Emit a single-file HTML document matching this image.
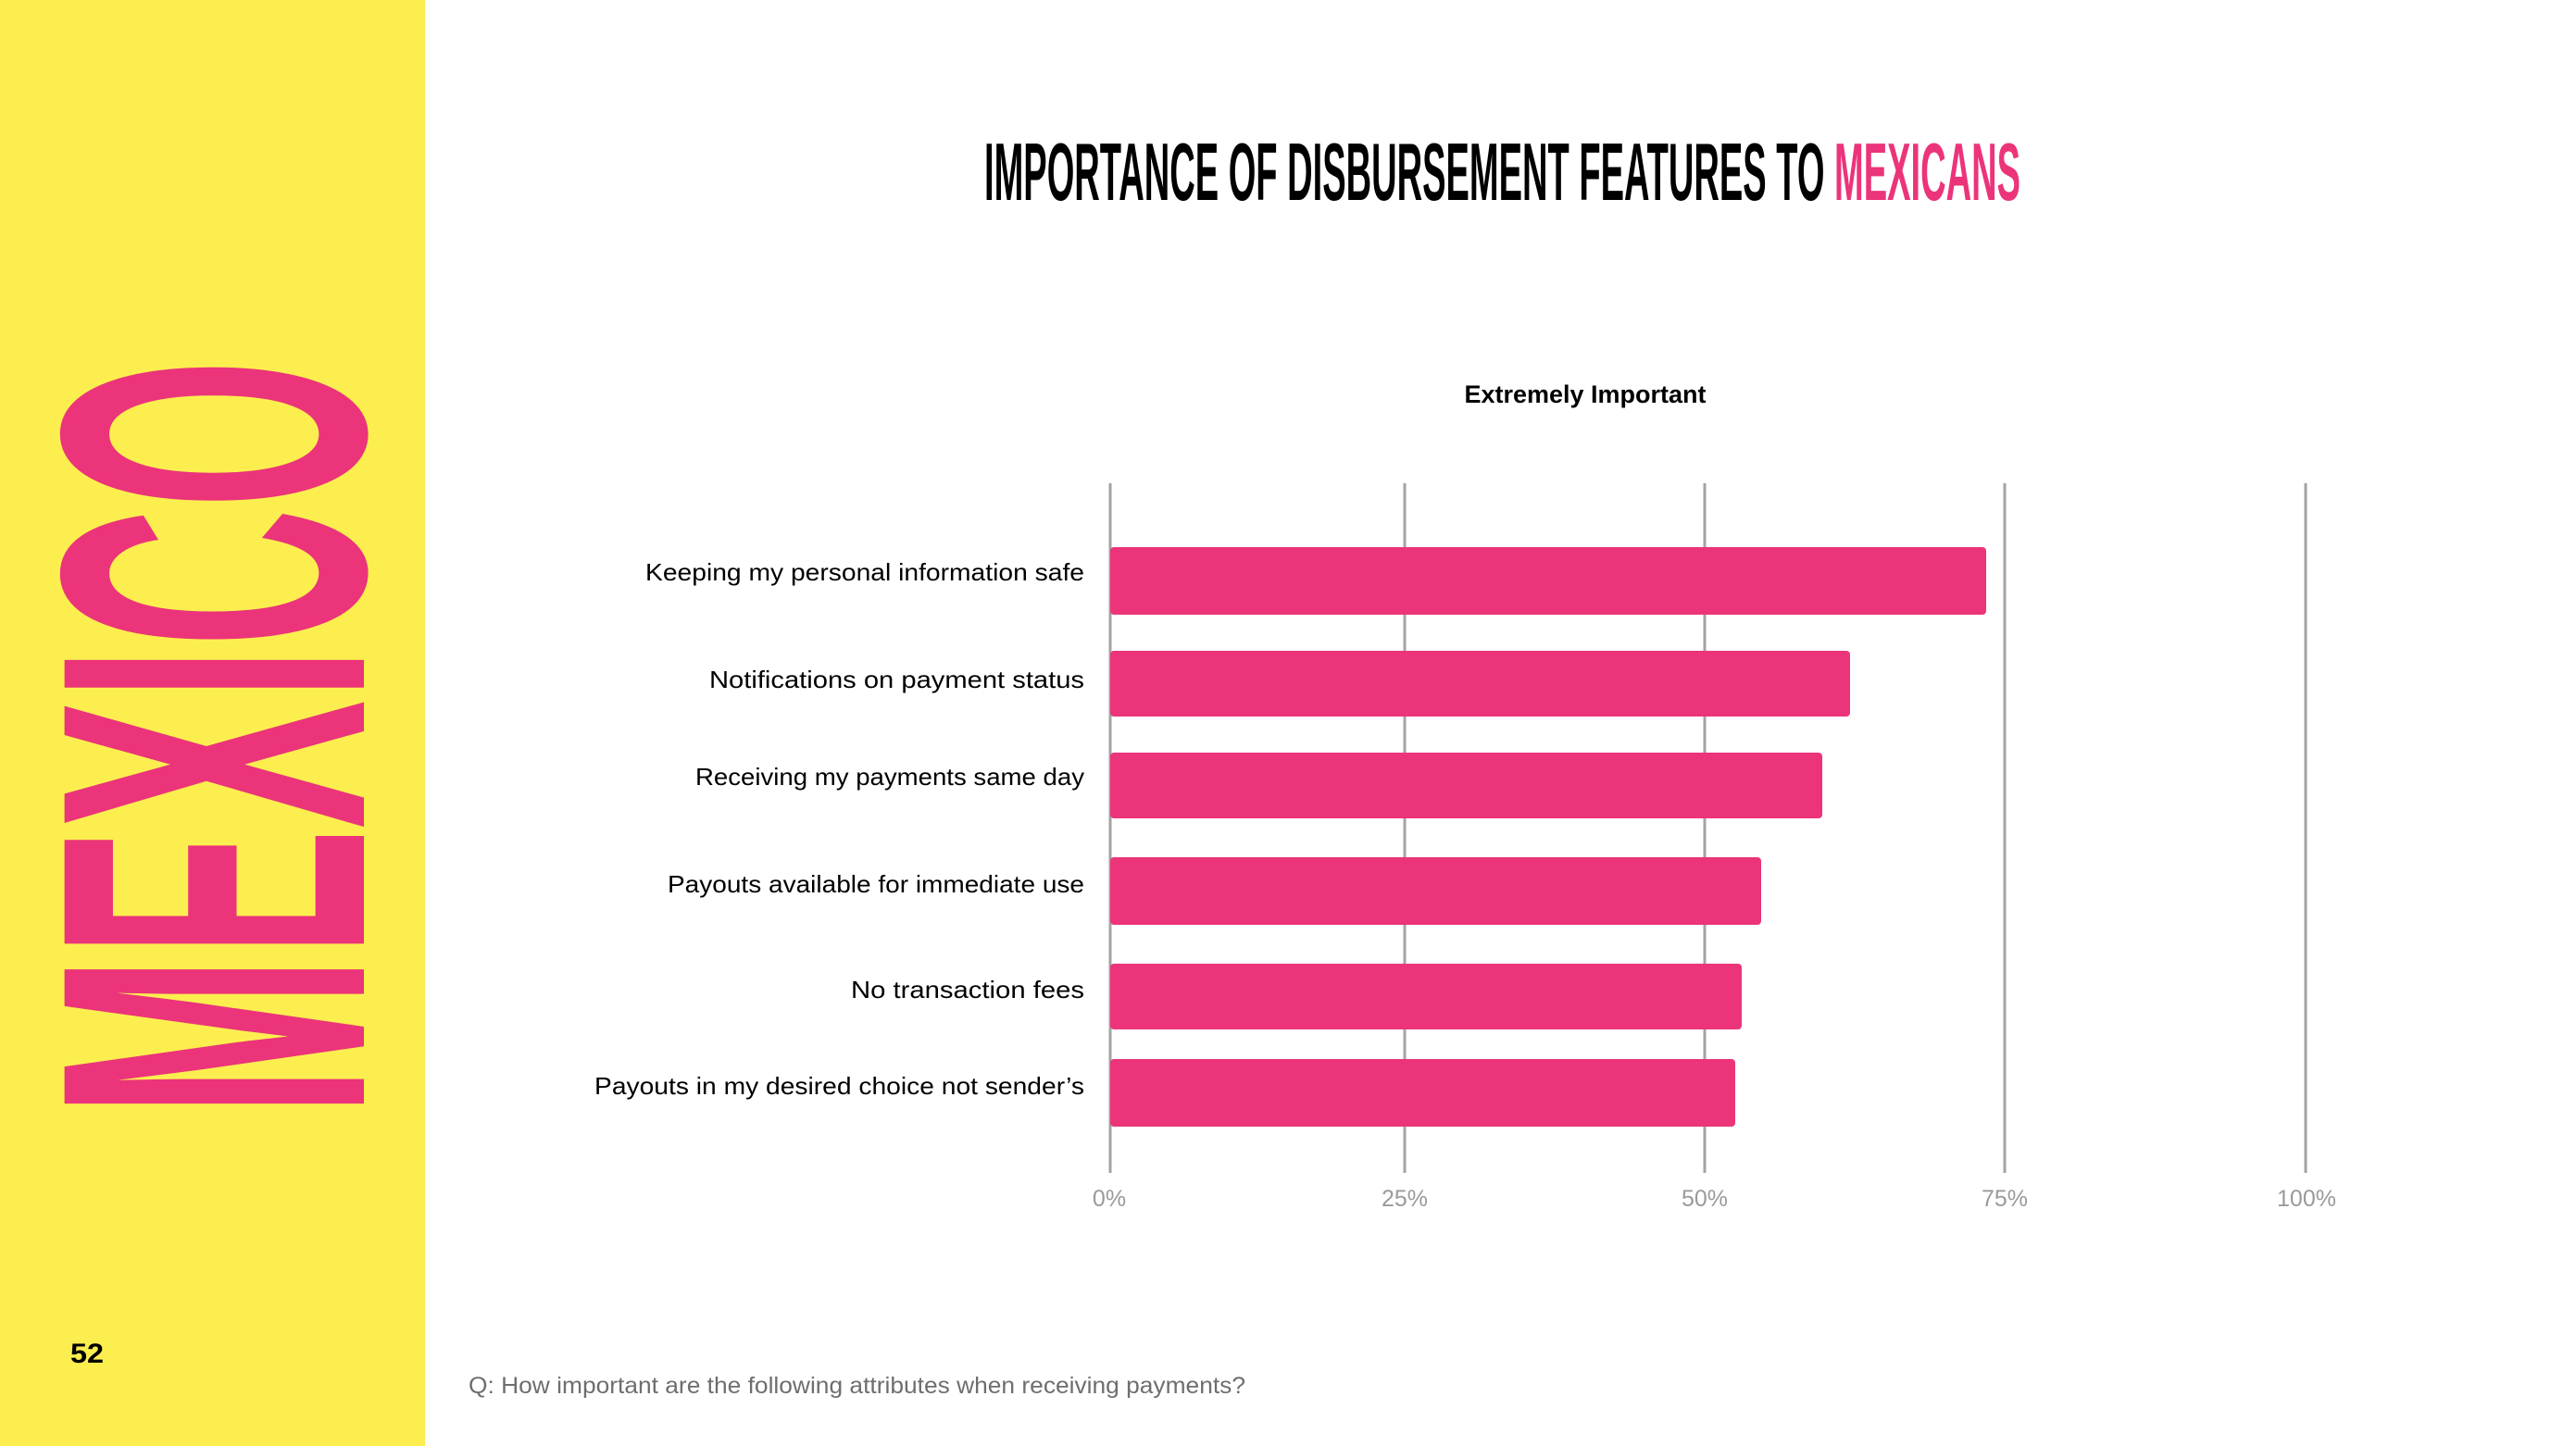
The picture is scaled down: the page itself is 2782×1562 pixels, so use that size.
<!DOCTYPE html>
<html><head><meta charset="utf-8"><style>html,body{margin:0;padding:0;background:#fff}svg{display:block}</style></head>
<body>
<svg width="2782" height="1562" viewBox="0 0 2782 1562" xmlns="http://www.w3.org/2000/svg" font-family="Liberation Sans, sans-serif">
<rect x="0" y="0" width="2782" height="1562" fill="#fff"/>
<rect x="0" y="0" width="459" height="1562" fill="#FDEE50"/>
<text transform="translate(393,1206) rotate(-90)" font-size="470" font-weight="bold" fill="#EB347A" textLength="818" lengthAdjust="spacingAndGlyphs">MEXICO</text>
<text x="76" y="1472" font-size="30" font-weight="bold" fill="#000" textLength="36" lengthAdjust="spacingAndGlyphs">52</text>
<text x="506" y="1505" font-size="25" fill="#6e6e6e" textLength="839" lengthAdjust="spacingAndGlyphs">Q: How important are the following attributes when receiving payments?</text>
<text x="1063" y="216" font-size="88" font-weight="bold" fill="#000" textLength="1119" lengthAdjust="spacingAndGlyphs">IMPORTANCE OF DISBURSEMENT FEATURES TO <tspan fill="#EB347A">MEXICANS</tspan></text>
<text x="1712" y="435" font-size="27" font-weight="bold" fill="#000" text-anchor="middle">Extremely Important</text>
<g stroke="#a3a3a3" stroke-width="3">
<line x1="1199" y1="522" x2="1199" y2="1267"/>
<line x1="1517" y1="522" x2="1517" y2="1267"/>
<line x1="1841" y1="522" x2="1841" y2="1267"/>
<line x1="2165" y1="522" x2="2165" y2="1267"/>
<line x1="2490" y1="522" x2="2490" y2="1267"/>
</g>
<g fill="#9a9a9a" font-size="25" text-anchor="middle">
<text x="1198" y="1303">0%</text>
<text x="1517" y="1303">25%</text>
<text x="1841" y="1303">50%</text>
<text x="2165" y="1303">75%</text>
<text x="2491" y="1303">100%</text>
</g>
<g fill="#EB347A">
<rect x="1199" y="591" width="946" height="73" rx="4"/>
<rect x="1199" y="703" width="799" height="71" rx="4"/>
<rect x="1199" y="813" width="769" height="71" rx="4"/>
<rect x="1199" y="926" width="703" height="73" rx="4"/>
<rect x="1199" y="1041" width="682" height="71" rx="4"/>
<rect x="1199" y="1144" width="675" height="73" rx="4"/>
</g>
<g fill="#000" font-size="26" text-anchor="end">
<text x="1171" y="627" textLength="474" lengthAdjust="spacingAndGlyphs">Keeping my personal information safe</text>
<text x="1171" y="743" textLength="405" lengthAdjust="spacingAndGlyphs">Notifications on payment status</text>
<text x="1171" y="848" textLength="420" lengthAdjust="spacingAndGlyphs">Receiving my payments same day</text>
<text x="1171" y="964" textLength="450" lengthAdjust="spacingAndGlyphs">Payouts available for immediate use</text>
<text x="1171" y="1078" textLength="252" lengthAdjust="spacingAndGlyphs">No transaction fees</text>
<text x="1171" y="1182" textLength="529" lengthAdjust="spacingAndGlyphs">Payouts in my desired choice not sender’s</text>
</g>
</svg>
</body></html>
